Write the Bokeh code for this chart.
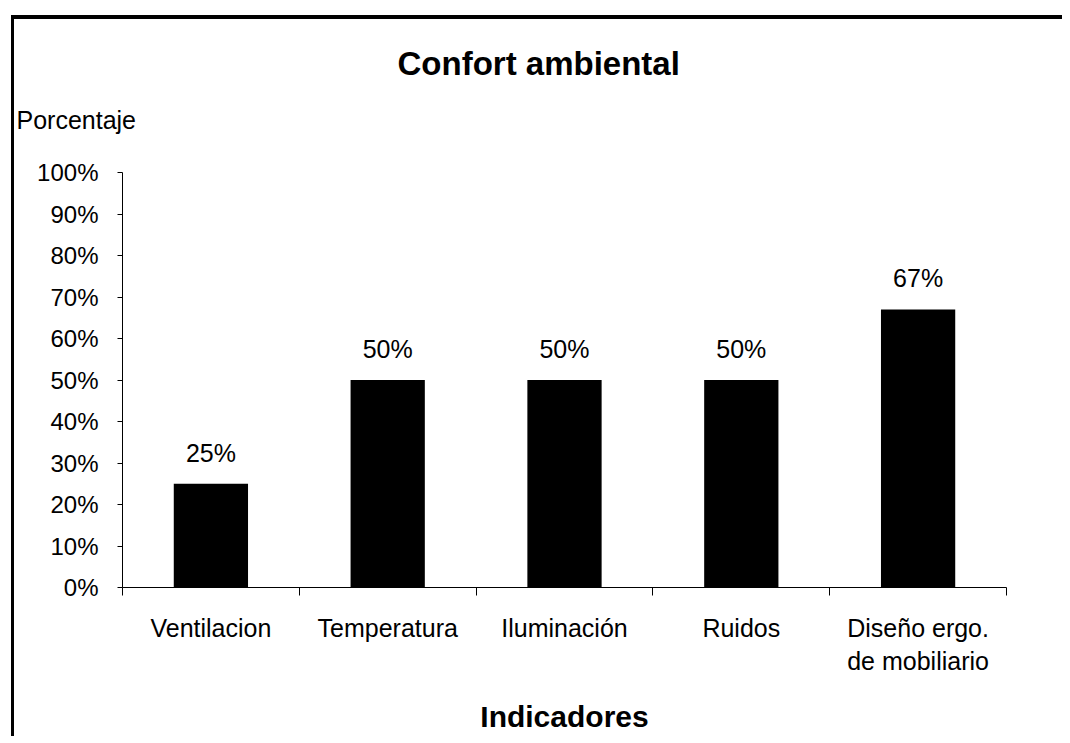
from bokeh.plotting import figure
from bokeh.models import (ColumnDataSource, FixedTicker, LinearAxis, Title,
                          LabelSet, Range1d, PrintfTickFormatter)
from bokeh.core.properties import value
from bokeh.embed import file_html
from bokeh.resources import INLINE

# ---- data ----
categories = ["Ventilacion", "Temperatura", "Iluminación", "Ruidos",
              "Diseño ergo.\nde mobiliario"]
values = [25, 50, 50, 50, 67]
value_labels = ["25%", "50%", "50%", "50%", "67%"]
y_ticks = [0, 10, 20, 30, 40, 50, 60, 70, 80, 90, 100]
title_text = "Confort ambiental"
y_title = "Porcentaje"
x_title = "Indicadores"

FONT = "Liberation Sans"
n = len(categories)
x_pos = list(range(1, n + 1))
boundaries = [i + 0.5 for i in range(0, n + 1)]

source = ColumnDataSource(dict(x=x_pos, top=values, label=value_labels))

p = figure(width=1062, height=736,
           x_range=Range1d(0.5, n + 0.5), y_range=Range1d(0, 100),
           x_axis_type=None, y_axis_type=None, title=None,
           output_backend="svg", toolbar_location=None,
           min_border_left=122, min_border_right=56,
           min_border_top=172, min_border_bottom=148)
# thin black frame along the top and left edge of the chart area
p.styles = {"box-shadow": "inset 11px 15px 0 0 #fff, inset 14px 19px 0 0 #000"}
p.outline_line_color = None
p.background_fill_color = None
p.border_fill_color = None

# bars
p.vbar(x="x", top="top", width=0.42, source=source,
       fill_color="black", line_color=None)

# value labels
p.add_layout(LabelSet(x="x", y="top", text="label", source=source,
                      y_offset=22, text_align="center",
                      text_baseline="alphabetic",
                      text_font=value(FONT), text_font_size=value("25px"),
                      text_color="black"))

# y axis
yaxis = LinearAxis(ticker=FixedTicker(ticks=y_ticks, minor_ticks=[]),
                   formatter=PrintfTickFormatter(format="%d%%"))
yaxis.axis_line_color = "black"
yaxis.axis_line_width = 1
yaxis.major_tick_out = 5
yaxis.major_tick_in = 0
yaxis.major_tick_line_color = "black"
yaxis.minor_tick_line_color = None
yaxis.major_label_standoff = 19
yaxis.major_label_text_font = FONT
yaxis.major_label_text_font_size = "24px"
yaxis.major_label_text_color = "black"
p.add_layout(yaxis, "left")

# x axis (category labels centred, ticks on category boundaries)
xaxis = LinearAxis(ticker=FixedTicker(ticks=x_pos, minor_ticks=boundaries),
                   major_label_overrides={i: c for i, c in zip(x_pos, categories)})
xaxis.axis_line_color = "black"
xaxis.axis_line_width = 1
xaxis.major_tick_line_color = None
xaxis.major_tick_out = 0
xaxis.major_tick_in = 0
xaxis.minor_tick_line_color = "black"
xaxis.minor_tick_out = 8
xaxis.minor_tick_in = 0
xaxis.major_label_standoff = 18
xaxis.major_label_text_font = FONT
xaxis.major_label_text_font_size = "25px"
xaxis.major_label_text_color = "black"
xaxis.axis_label = x_title
xaxis.axis_label_standoff = 22
xaxis.axis_label_text_font = FONT
xaxis.axis_label_text_font_size = "30px"
xaxis.axis_label_text_font_style = "bold"
xaxis.axis_label_text_color = "black"
p.add_layout(xaxis, "below")

# y title (closest to frame) and chart title (above it)
p.add_layout(Title(text=y_title, align="left", offset=-106, standoff=78,
                   text_font=FONT, text_font_size="25px",
                   text_font_style="normal", text_color="black"), "above")
p.add_layout(Title(text=title_text, align="left", offset=275, standoff=-35,
                   text_font=FONT, text_font_size="33px",
                   text_font_style="bold", text_color="black"), "above")

open("out.html", "w").write(file_html(p, INLINE))
